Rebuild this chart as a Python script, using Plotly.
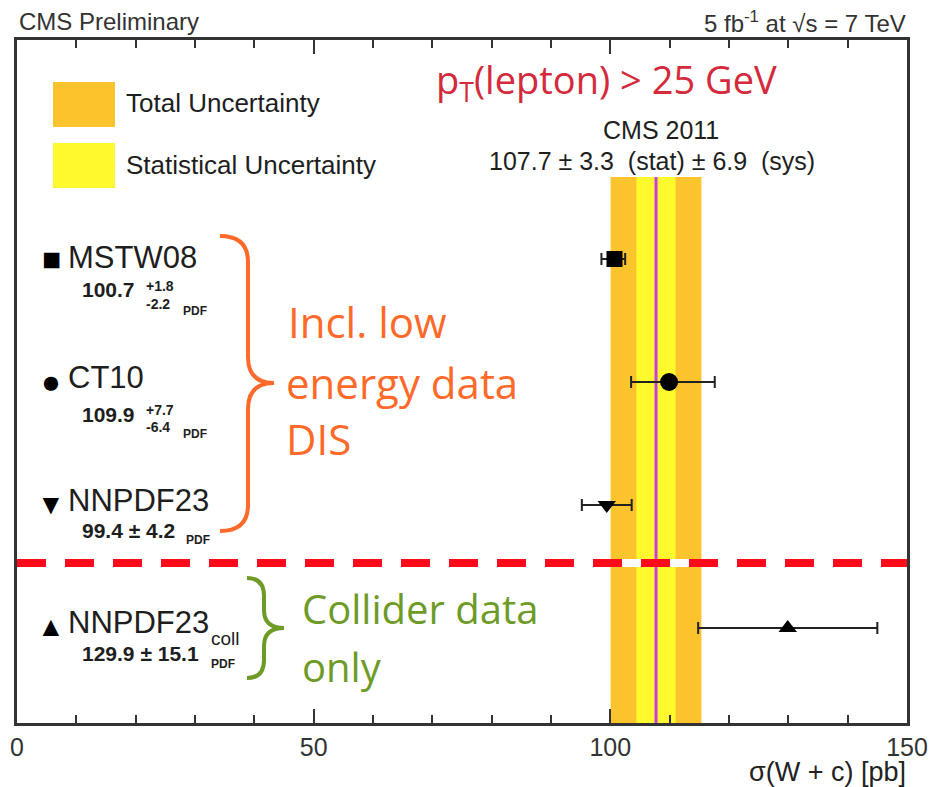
import math
import plotly.graph_objects as go

# ---------------- data ----------------
models = ["MSTW08", "CT10", "NNPDF23", "NNPDF23coll"]
sigma = [100.7, 109.9, 99.4, 129.9]
err_plus = [1.8, 7.7, 4.2, 15.1]
err_minus = [2.2, 6.4, 4.2, 15.1]
row = [3, 2, 1, 0]

cms_central = 107.7
cms_stat = 3.3
cms_sys = 6.9
cms_total = math.sqrt(cms_stat ** 2 + cms_sys ** 2)

x_ticks = [0, 50, 100, 150]

# ---------------- styling / layout helpers ----------------
W, H = 930, 787
L, R, T, B = 17, 907, 40, 723
PW, PH = R - L, B - T


def px(x):
    return (x - L) / PW


def py(y):
    return (B - y) / PH


HELV = "Liberation Sans, Arial, sans-serif"
CAL = "Open Sans, Lato, sans-serif"
TXT = "#1e1e1e"

symbols = ["square", "circle", "triangle-down", "triangle-up"]
msizes = [16, 18, 16, 16]

fig = go.Figure()

for i in range(len(models)):
    fig.add_trace(go.Scatter(
        x=[sigma[i]], y=[row[i]], mode="markers",
        marker=dict(symbol=symbols[i], size=msizes[i], color="black"),
        error_x=dict(type="data", symmetric=False, array=[err_plus[i]],
                     arrayminus=[err_minus[i]], color="#222222",
                     thickness=2, width=6),
        showlegend=False, hoverinfo="skip"))

shapes = []
# total and stat uncertainty bands + central line
band_top = 3.667
shapes.append(dict(type="rect", xref="x", yref="y", layer="below",
                   x0=cms_central - cms_total, x1=cms_central + cms_total,
                   y0=-0.8, y1=band_top, fillcolor="#FCC42C", line_width=0))
shapes.append(dict(type="rect", xref="x", yref="y", layer="below",
                   x0=cms_central - cms_stat, x1=cms_central + cms_stat,
                   y0=-0.8, y1=band_top, fillcolor="#FFF92D", line_width=0))
shapes.append(dict(type="line", xref="x", yref="y", layer="below",
                   x0=cms_central, x1=cms_central, y0=-0.8, y1=band_top,
                   line=dict(color="#C83CE6", width=3)))
# separator dashed line
shapes.append(dict(type="line", xref="paper", yref="y", x0=0, x1=1,
                   y0=0.528, y1=0.528, line=dict(color="white", width=8)))
shapes.append(dict(type="line", xref="paper", yref="y", x0=0, x1=1,
                   y0=0.528, y1=0.528,
                   line=dict(color="#FF0A1A", width=8, dash="29px,19px")))

# legend boxes
shapes.append(dict(type="rect", xref="paper", yref="paper",
                   x0=px(53), x1=px(115), y0=py(127), y1=py(82),
                   fillcolor="#FCC42C", line_width=0))
shapes.append(dict(type="rect", xref="paper", yref="paper",
                   x0=px(53), x1=px(115), y0=py(188), y1=py(143),
                   fillcolor="#FFF92D", line_width=0))


def brace(x0, xv, xt, ytop, ybot, ymid, r):
    def p(x, y):
        return f"{px(x):.5f},{py(y):.5f}"
    return (f"M {p(x0, ytop)} Q {p(xv, ytop)} {p(xv, ytop + r)} "
            f"L {p(xv, ymid - r)} Q {p(xv, ymid)} {p(xt, ymid)} "
            f"Q {p(xv, ymid)} {p(xv, ymid + r)} "
            f"L {p(xv, ybot - r)} Q {p(xv, ybot)} {p(x0, ybot)}")


shapes.append(dict(type="path", xref="paper", yref="paper",
                   path=brace(220, 248, 274, 236, 531, 383, 26),
                   line=dict(color="#FF6A2A", width=4)))
shapes.append(dict(type="path", xref="paper", yref="paper",
                   path=brace(247, 264, 284, 578, 678, 628, 18),
                   line=dict(color="#6E9B28", width=4)))

annotations = []


def ann(text, x, y, size, color=TXT, family=HELV, xanchor="left",
        yanchor="middle"):
    annotations.append(dict(text=text, x=px(x), y=py(y), xref="paper",
                            yref="paper", showarrow=False, xanchor=xanchor,
                            yanchor=yanchor,
                            font=dict(size=size, color=color, family=family)))


# header
ann("CMS Preliminary", 17, 22, 24, "#333333")
ann("5 fb<sup>-1</sup> at √s = 7 TeV", 908, 22, 24, "#333333",
    xanchor="right")

# legend text
ann("Total Uncertainty", 124, 103, 26)
ann("Statistical Uncertainty", 124, 165, 26)

# cut text
ann("p<sub>T</sub>(lepton) &gt; 25 GeV", 606, 82, 38, "#D42A3C", CAL,
    xanchor="center")

# CMS measurement
ann("CMS 2011", 661, 130, 25, xanchor="center")
ann(f"{cms_central} ± {cms_stat}\u00a0\u00a0(stat) ± {cms_sys}\u00a0\u00a0(sys)",
    652, 161, 25, xanchor="center")

# model labels
glyphs = ["■", "●", "▼", "▲"]
glyph_sizes = [32, 33, 28, 28]
label_y = [257, 378, 500, 622]
glyph_y = [259, 381, 504, 626]
for i in range(len(models)):
    ann(glyphs[i], 51, glyph_y[i], glyph_sizes[i], "black",
        xanchor="center")
    name = models[i] if i < 3 else "NNPDF23"
    ann(name, 66, label_y[i], 31)
ann("coll", 209, 638, 19)

# values
ann(f"<b>{sigma[0]}</b>", 80, 289, 21)
ann(f"<b>+{err_plus[0]}</b>", 144, 286, 14)
ann(f"<b>-{err_minus[0]}</b>", 144, 304, 14)
ann("<b>PDF</b>", 181, 311, 12)

ann(f"<b>{sigma[1]}</b>", 80, 414, 21)
ann(f"<b>+{err_plus[1]}</b>", 144, 410, 14)
ann(f"<b>-{err_minus[1]}</b>", 144, 427, 14)
ann("<b>PDF</b>", 181, 434, 12)

ann(f"<b>{sigma[2]} ± {err_plus[2]}</b>", 80, 530, 21)
ann("<b>PDF</b>", 184, 540, 12)

ann(f"<b>{sigma[3]} ± {err_plus[3]}</b>", 80, 653, 21)
ann("<b>PDF</b>", 209, 664, 12)

# group labels
ORG = "#FF6A2A"
GRN = "#6E9B28"
ann("Incl. low", 286, 322, 42, ORG, CAL)
ann("energy data", 284, 382, 42, ORG, CAL)
ann("DIS", 284, 438, 42, ORG, CAL)
ann("Collider data", 300, 608, 40, GRN, CAL)
ann("only", 300, 666, 40, GRN, CAL)

# x axis title
ann("σ(W + c) [pb]", 908, 772, 27, "#222222", xanchor="right")

# y range chosen so that rows sit at their positions
row_px = 123.0
y_bottom = 0 - (B - 628) / row_px
y_top = 3 + (259 - T) / row_px

fig.update_layout(
    width=W, height=H,
    margin=dict(l=L, r=W - R, t=T, b=H - B, autoexpand=False),
    paper_bgcolor="white", plot_bgcolor="white",
    shapes=shapes, annotations=annotations,
    xaxis=dict(range=[0, 150], tickvals=x_ticks, ticks="inside",
               ticklen=14, tickwidth=2, tickcolor="#333333",
               showline=True, linecolor="#333333", linewidth=2.5,
               mirror="ticks", showgrid=False, zeroline=False,
               automargin=False,
               tickfont=dict(size=25, color="#333333", family=HELV),
               minor=dict(dtick=10, ticks="inside", ticklen=8,
                          tickwidth=2, tickcolor="#333333", showgrid=False)),
    yaxis=dict(range=[y_bottom, y_top], showticklabels=False, ticks="",
               showline=True, linecolor="#333333", linewidth=2.5,
               mirror=True, showgrid=False, zeroline=False,
               automargin=False),
)

fig.write_html("out.html")
